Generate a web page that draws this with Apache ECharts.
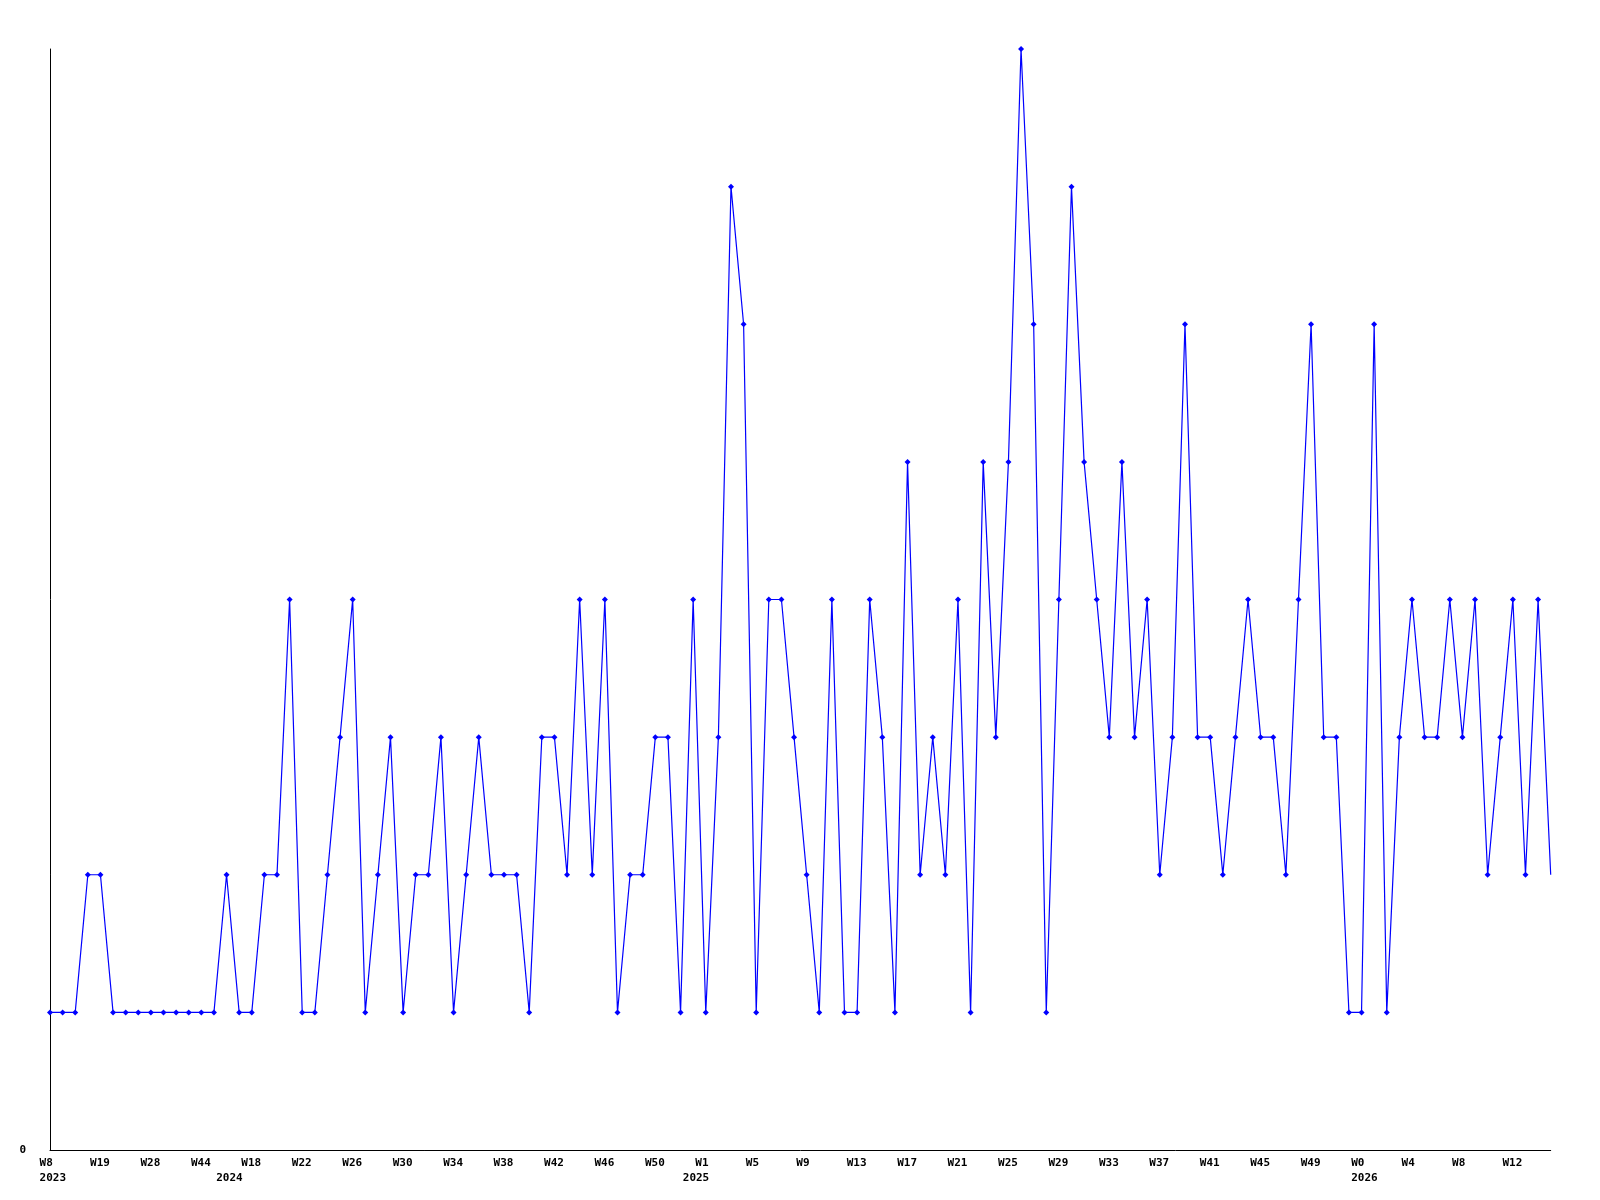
<!DOCTYPE html>
<html>
<head>
<meta charset="utf-8">
<title>Weekly chart</title>
<script src="https://cdn.jsdelivr.net/npm/echarts@6/dist/echarts.min.js"></script>
<style>
  html, body { margin: 0; padding: 0; background: #ffffff; }
  #chart { width: 1600px; height: 1200px; }
</style>
</head>
<body>
<div id="chart"></div>
<script>
// Categories: "year-week" for every point
const categories = [
  '2023-W8','2023-W10','2023-W13','2023-W16','2023-W19','2023-W21','2023-W23','2023-W26','2023-W28','2023-W31',
  '2023-W35','2023-W40','2023-W44','2023-W48',
  '2024-W3','2024-W12','2024-W18','2024-W19','2024-W20','2024-W21','2024-W22','2024-W23','2024-W24','2024-W25',
  '2024-W26','2024-W27','2024-W28','2024-W29','2024-W30','2024-W31','2024-W32','2024-W33','2024-W34','2024-W35',
  '2024-W36','2024-W37','2024-W38','2024-W39','2024-W40','2024-W41','2024-W42','2024-W43','2024-W44','2024-W45',
  '2024-W46','2024-W47','2024-W48','2024-W49','2024-W50','2024-W51','2024-W52',
  '2025-W0','2025-W1','2025-W2','2025-W3','2025-W4','2025-W5','2025-W6','2025-W7','2025-W8','2025-W9',
  '2025-W10','2025-W11','2025-W12','2025-W13','2025-W14','2025-W15','2025-W16','2025-W17','2025-W18','2025-W19',
  '2025-W20','2025-W21','2025-W22','2025-W23','2025-W24','2025-W25','2025-W26','2025-W27','2025-W28','2025-W29',
  '2025-W30','2025-W31','2025-W32','2025-W33','2025-W34','2025-W35','2025-W36','2025-W37','2025-W38','2025-W39',
  '2025-W40','2025-W41','2025-W42','2025-W43','2025-W44','2025-W45','2025-W46','2025-W47','2025-W48','2025-W49',
  '2025-W50','2025-W51','2025-W52',
  '2026-W0','2026-W1','2026-W2','2026-W3','2026-W4','2026-W5','2026-W6','2026-W7','2026-W8','2026-W9',
  '2026-W10','2026-W11','2026-W12','2026-W13','2026-W14','2026-W15'
];

// Series values
const values = [
  1,1,1,2,2,1,1,1,1,1,
  1,1,1,1,2,1,1,2,2,4,
  1,1,2,3,4,1,2,3,1,2,
  2,3,1,2,3,2,2,2,1,3,
  3,2,4,2,4,1,2,2,3,3,
  1,4,1,3,7,6,1,4,4,3,
  2,1,4,1,1,4,3,1,5,2,
  3,2,4,1,5,3,5,8,6,1,
  4,7,5,4,3,5,3,4,2,3,
  6,3,3,2,3,4,3,3,2,4,
  6,3,3,1,1,6,1,3,4,3,
  3,4,3,4,2,3,4,2,4,2
];

// Y tick labels shown
const yTickLabels = ['0'];

const LABEL_EVERY = 4;

function yearOf(i) { return categories[i].split('-')[0]; }
function weekOf(i) { return categories[i].split('-')[1]; }
function isYearStart(i) { return i === 0 || yearOf(i) !== yearOf(i - 1); }

const seriesData = values.map((v, i) =>
  i === values.length - 1 ? { value: v, symbol: 'none' } : v
);

const chart = echarts.init(document.getElementById('chart'), null, { renderer: 'canvas' });

const fontFamily = '"DejaVu Sans Mono", "Liberation Mono", monospace';

const option = {
  animation: false,
  backgroundColor: '#ffffff',
  grid: [
    { left: 50, right: 49.3, top: 49, bottom: 50, containLabel: false, outerBoundsMode: 'none' },
    { left: 39.6, right: 59.7, top: 49, bottom: 50, containLabel: false, outerBoundsMode: 'none' }
  ],
  xAxis: [
    {
      type: 'category',
      gridIndex: 0,
      data: categories,
      boundaryGap: false,
      axisLine: { show: true, lineStyle: { color: '#000000', width: 1 } },
      axisTick: { show: false },
      axisLabel: { show: false },
      splitLine: { show: false }
    },
    {
      type: 'category',
      gridIndex: 1,
      data: categories,
      boundaryGap: false,
      axisLine: { show: false },
      axisTick: { show: false },
      splitLine: { show: false },
      axisLabel: {
        show: true,
        interval: (i) => i % LABEL_EVERY === 0 || isYearStart(i),
        formatter: (val, i) => {
          const line1 = i % LABEL_EVERY === 0 ? weekOf(i) : '';
          const line2 = isYearStart(i) ? yearOf(i) : '';
          return line2 ? line1 + '\n' + line2 : line1;
        },
        align: 'left',
        verticalAlign: 'top',
        margin: 6,
        lineHeight: 14.5,
        color: '#000000',
        fontFamily: fontFamily,
        fontWeight: 'bold',
        fontSize: 11
      }
    }
  ],
  yAxis: [
    {
      type: 'value',
      gridIndex: 0,
      min: 0,
      max: 8,
      interval: 8,
      axisLine: { show: true, lineStyle: { color: '#000000', width: 1 } },
      axisTick: { show: false },
      splitLine: { show: false },
      axisLabel: {
        show: true,
        margin: 24,
        color: '#000000',
        fontFamily: fontFamily,
        fontWeight: 'bold',
        fontSize: 11,
        formatter: (v) => (v === 0 ? yTickLabels[0] : '')
      }
    },
    {
      type: 'value',
      gridIndex: 1,
      min: 0,
      max: 8,
      show: false
    }
  ],
  series: [
    {
      type: 'line',
      xAxisIndex: 0,
      yAxisIndex: 0,
      data: seriesData,
      symbol: 'diamond',
      symbolSize: 6,
      showAllSymbol: true,
      lineStyle: { color: '#0000ff', width: 1.2 },
      itemStyle: { color: '#0000ff', borderWidth: 0 },
      emphasis: { disabled: true }
    }
  ]
};

chart.setOption(option);
</script>
</body>
</html>
